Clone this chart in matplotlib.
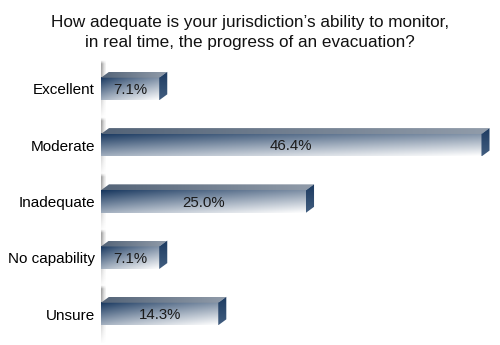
import numpy as np
import matplotlib
matplotlib.use("Agg")
import matplotlib.pyplot as plt
from matplotlib.patches import Polygon

plt.rcParams['font.family'] = ['Liberation Sans', 'DejaVu Sans']

categories = ["Excellent", "Moderate", "Inadequate", "No capability", "Unsure"]
values = [7.1, 46.4, 25.0, 7.1, 14.3]
value_labels = ["7.1%", "46.4%", "25.0%", "7.1%", "14.3%"]
title = "How adequate is your jurisdiction\u2019s ability to monitor,\nin real time, the progress of an evacuation?"

NAVY = np.array([20, 52, 92]) / 255.0
WHITE = np.array([1.0, 1.0, 1.0])

fig = plt.figure(figsize=(5.0, 3.45), dpi=100)
ax = fig.add_axes([0.202, 0.0, 0.798, 1.0])
ax.set_xlim(0, 48.66)
ax.set_ylim(4.551, -1.582)
for s in ax.spines.values():
    s.set_visible(False)
ax.set_xticks([])
ax.set_yticks(range(len(categories)))
ax.set_yticklabels(categories, fontsize=11)
ax.tick_params(axis='y', length=0, pad=4.5)

h = 0.2      # half height of the front face
dx = 0.98    # depth offset, x
dy = 0.105   # depth offset, y

# front face shading: dark navy top-left fading to white bottom-right
nu, nv = 200, 60
u = np.linspace(0, 1, nu)[None, :] ** 0.8
v = np.linspace(0, 1, nv)[:, None]
dark = np.clip(1 - 0.45 * u - 0.6 * v + 0.05 * u * v, 0, 1)
front_rgb = WHITE[None, None, :] * (1 - dark[..., None]) + NAVY[None, None, :] * dark[..., None]

# top face: slate on the left, lighter grey on the right
top_l = np.array([84, 100, 120]) / 255.0
top_r = np.array([145, 156, 170]) / 255.0
tu = np.linspace(0, 1, nu)[None, :, None]
top_rgb = np.repeat(top_l * (1 - tu) + top_r * tu, 4, axis=0)

# side face: dark navy, slightly lighter at the bottom
sv = np.linspace(0, 1, nv)[:, None, None]
side_rgb = np.repeat((np.array([28, 58, 96]) / 255.0) * (1 - sv) + (np.array([66, 94, 128]) / 255.0) * sv, 4, axis=1)

# soft shadow to the left of each bar
sx = np.linspace(-1.2, 0.6, 70)
sy = np.linspace(0, 1, 90)
shadow_alpha = (np.exp(-((sx[None, :] + 0.15) / 0.5) ** 2)
                * np.clip(1.0 - sy[:, None] ** 1.3, 0, 1)
                * np.clip(sy[:, None] / 0.06, 0, 1) * 0.75)
shadow = np.zeros((90, 70, 4))
shadow[..., :3] = 0.4
shadow[..., 3] = shadow_alpha

for i, (val, lab) in enumerate(zip(values, value_labels)):
    yc = i
    ax.imshow(shadow, extent=[-1.2, 0.6, yc + h + 0.34, yc - h - 0.3],
              aspect='auto', interpolation='bilinear', zorder=1)

    # front face
    ax.imshow(front_rgb, extent=[0, val, yc + h, yc - h],
              aspect='auto', interpolation='bilinear', zorder=3)

    # top face
    top_poly = Polygon([(0, yc - h), (val, yc - h), (val + dx, yc - h - dy), (dx, yc - h - dy)],
                       closed=True, facecolor='none', edgecolor='none')
    ax.add_patch(top_poly)
    im = ax.imshow(top_rgb, extent=[0, val + dx, yc - h, yc - h - dy],
                   aspect='auto', interpolation='bilinear', zorder=3)
    im.set_clip_path(top_poly)

    # right side face
    side_poly = Polygon([(val, yc - h), (val + dx, yc - h - dy), (val + dx, yc + h - dy), (val, yc + h)],
                        closed=True, facecolor='none', edgecolor='none')
    ax.add_patch(side_poly)
    im = ax.imshow(side_rgb, extent=[val, val + dx, yc + h, yc - h - dy],
                   aspect='auto', interpolation='bilinear', zorder=3)
    im.set_clip_path(side_poly)

    ax.text(val / 2, yc + 0.02, lab, ha='center', va='center', fontsize=10.8,
            color='#1a1a1a', zorder=5)

ax.set_xlim(0, 48.66)
ax.set_ylim(4.551, -1.582)

fig.text(0.5, 0.905, title, ha='center', va='center', fontsize=12.3,
         color='#111111', linespacing=1.45)

fig.savefig("out.png", dpi=100, facecolor='white')
